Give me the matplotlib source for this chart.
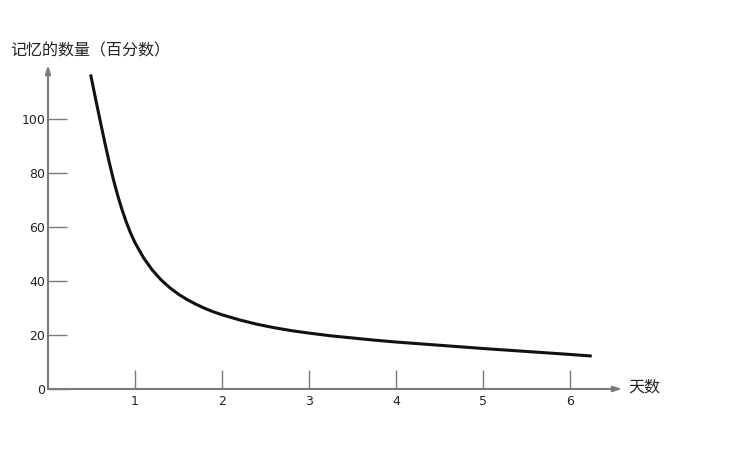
import matplotlib as mpl
mpl.use('Agg')
import matplotlib.pyplot as plt

plt.rcParams['font.family'] = ['DejaVu Sans', 'Noto Sans CJK SC']

# values
days = [0.49, 0.55, 0.6, 0.65, 0.7, 0.75, 0.8, 0.85, 0.9, 0.95, 1.0, 1.1, 1.2, 1.3, 1.4,
        1.5, 1.6, 1.7, 1.8, 1.9, 2.0, 2.2, 2.4, 2.6, 2.8, 3.0, 3.25, 3.5, 3.75, 4.0,
        4.5, 5.0, 5.5, 6.0, 6.25]
memory = [116.5, 107.0, 99.3, 91.7, 84.5, 77.8, 71.8, 66.5, 61.8, 57.7, 54.2, 48.5, 44.0,
          40.4, 37.5, 35.1, 33.1, 31.4, 29.9, 28.6, 27.5, 25.6, 24.0, 22.7, 21.6, 20.7,
          19.7, 18.9, 18.1, 17.4, 16.2, 15.0, 13.9, 12.8, 12.2]
y_ticks = [0, 20, 40, 60, 80, 100]
x_ticks = [1, 2, 3, 4, 5, 6]

axis_color = '#7a7a7a'
W, H = 737, 459

fig = plt.figure(figsize=(W / 100, H / 100), dpi=100)
# origin at pixel (48, 389); 1 day = 87 px, 20 % = 54 px
x_max, y_max = 6.6, 120
ax = fig.add_axes([48 / W, (H - 389) / H, 87 * x_max / W, 2.7 * y_max / H])
ax.set_xlim(0, x_max)
ax.set_ylim(0, y_max)
for s in ax.spines.values():
    s.set_visible(False)
ax.patch.set_alpha(0)

ax.plot(days, memory, color='#111111', lw=2.2, solid_capstyle='butt', solid_joinstyle='round')

# axes with arrow heads
arrow = dict(arrowstyle='-|>,head_length=0.5,head_width=0.16', color=axis_color, lw=1.5,
             shrinkA=0, shrinkB=0)
ax.annotate('', xy=(x_max, 0), xytext=(0, 0), arrowprops=arrow, annotation_clip=False)
ax.annotate('', xy=(0, y_max), xytext=(0, 0), arrowprops=arrow, annotation_clip=False)

ax.set_xticks(x_ticks)
ax.set_yticks(y_ticks)
ax.tick_params(axis='both', direction='in', length=14, width=1.0, color=axis_color,
               labelsize=9, labelcolor='#222222')
ax.tick_params(axis='x', pad=4)
ax.tick_params(axis='y', pad=2)

fig.text(10 / W, 1 - 51 / H, '记忆的数量（百分数）', fontsize=11.5, va='center', ha='left',
         family=['Noto Sans CJK SC'], color='#222222')
fig.text(628 / W, 1 - 387 / H, '天数', fontsize=11.5, va='center', ha='left',
         family=['Noto Sans CJK SC'], color='#222222')

plt.savefig('out.png', dpi=100)
